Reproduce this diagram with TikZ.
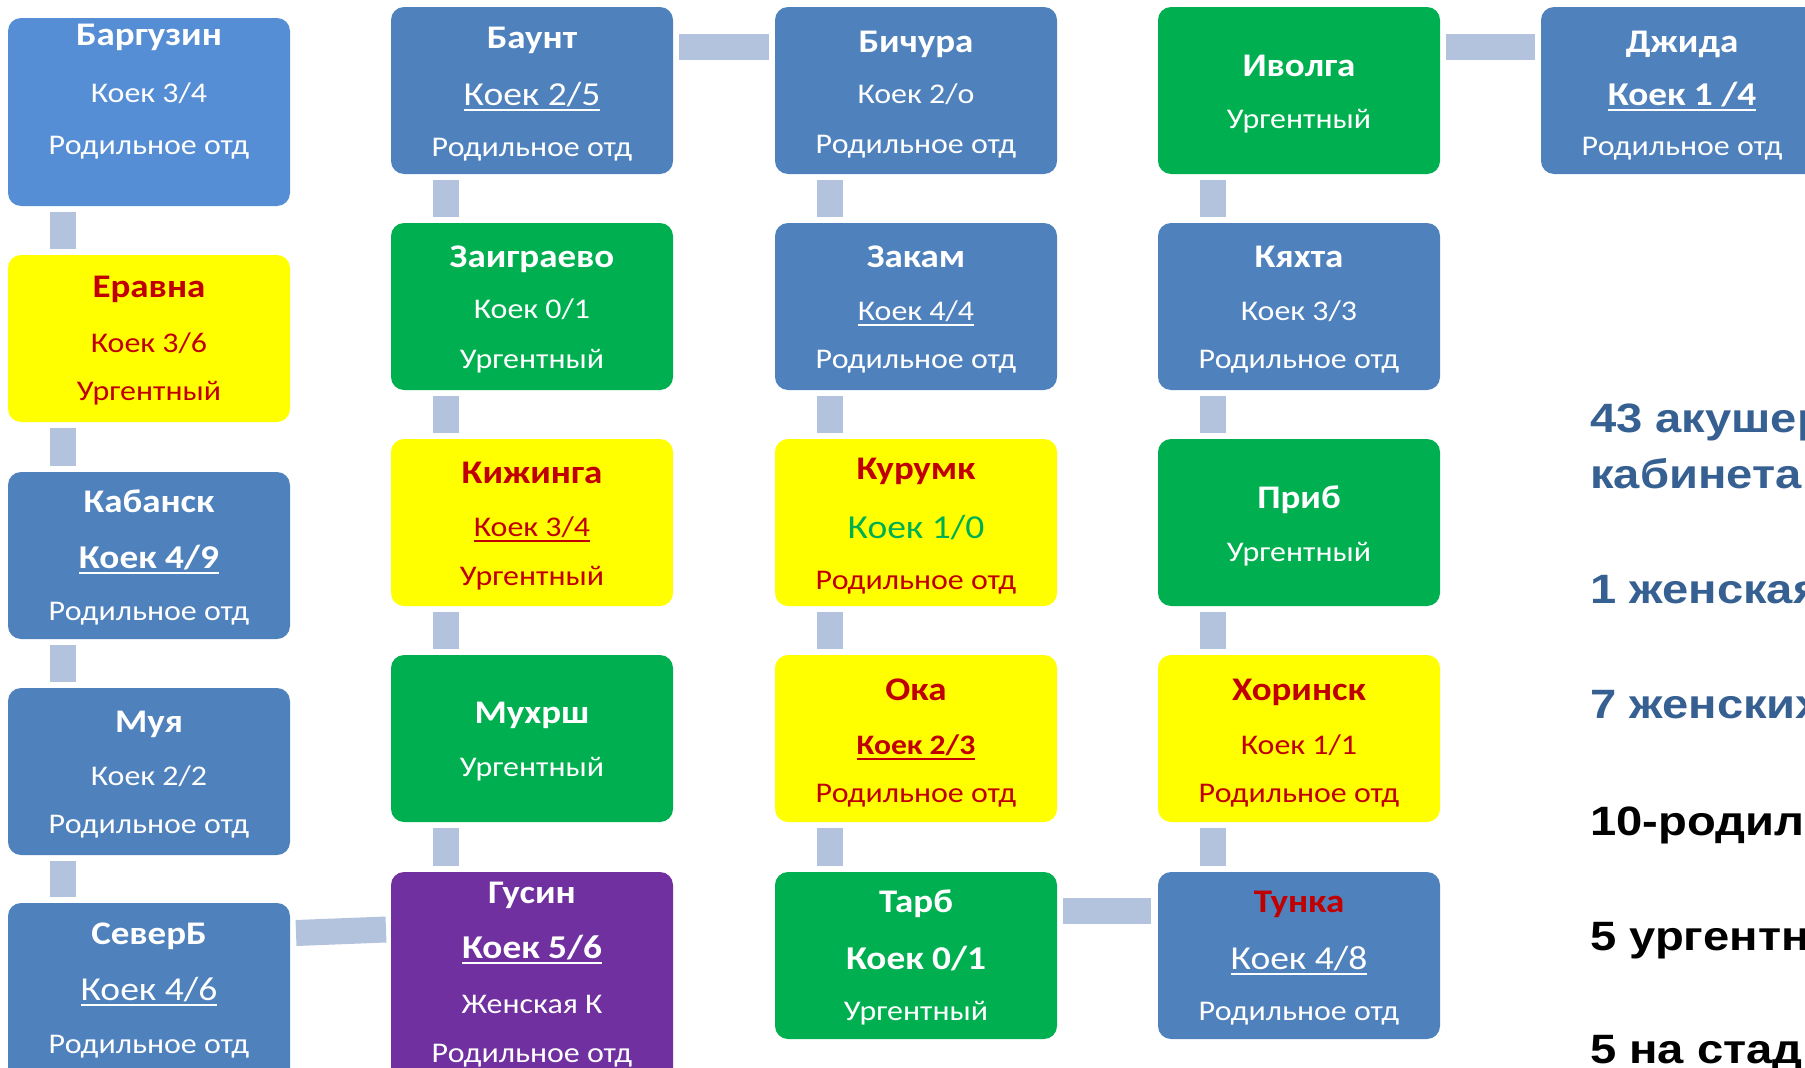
\documentclass[tikz,border=0pt]{standalone}
\usepackage{fontspec}
\setmainfont{Carlito}[FakeStretch=1.12]
\newfontfamily\arialf{Liberation Sans}[FakeStretch=1.15]
\definecolor{boxblue}{RGB}{79,129,189}
\definecolor{lightbl}{RGB}{85,142,213}
\definecolor{grn}{RGB}{0,176,80}
\definecolor{yel}{RGB}{255,255,0}
\definecolor{purp}{RGB}{112,48,160}
\definecolor{redt}{RGB}{192,0,0}
\definecolor{connc}{RGB}{179,195,221}
\definecolor{txtblue}{RGB}{54,96,146}
\newcommand\fT{\fontsize{33}{33}\selectfont\bfseries}
\newcommand\fR{\fontsize{28.5}{28.5}\selectfont}
\newcommand\fL{\fontsize{33.5}{33.5}\selectfont}
\newcommand\fB{\fontsize{33.3}{33.3}\selectfont\bfseries}
\newcommand\fBs{\fontsize{28.2}{28.2}\selectfont\bfseries}
\newcommand\ulx[1]{\setbox0\hbox{#1}\rlap{\rule[-6pt]{\wd0}{2pt}}\box0}
\newcommand\bl[4]{\node[anchor=base,inner sep=0,text=white,#3] (#1l#2) at ([shift={(0,#2)}]#1.north) {#4};}
\tikzset{
  box/.style={rounded corners=13pt, minimum width=282pt, minimum height=167pt, anchor=north west, inner sep=0, outer sep=0},
  bluebox/.style={box, fill=boxblue},
  grnbox/.style={box, fill=grn},
  yelbox/.style={box, fill=yel},
  purbox/.style={box, fill=purp},
  conn/.style={line width=26pt, draw=connc},
  side/.style={anchor=base west, inner sep=0, font=\arialf\bfseries\fontsize{41}{41}\selectfont}
}
\begin{document}
\begin{tikzpicture}[x=1pt,y=-1pt]
\useasboundingbox (0,0) rectangle (1805,1068);
\clip (0,0) rectangle (1805,1068);
% column 1
\node[box, fill=lightbl, minimum height=188pt] (b1) at (8,18) {};
\node[yelbox] (b2) at (8,255) {};
\node[bluebox] (b3) at (8,472) {};
\node[bluebox] (b4) at (8,688) {};
\node[bluebox, minimum height=200pt] (b5) at (8,903) {};
% column 2
\node[bluebox] (c1) at (391,7) {};
\node[grnbox] (c2) at (391,223) {};
\node[yelbox] (c3) at (391,439) {};
\node[grnbox] (c4) at (391,655) {};
\node[purbox, minimum height=220pt] (c5) at (391,872) {};
% column 3
\node[bluebox] (d1) at (775,7) {};
\node[bluebox] (d2) at (775,223) {};
\node[yelbox] (d3) at (775,439) {};
\node[yelbox] (d4) at (775,655) {};
\node[grnbox] (d5) at (775,872) {};
% column 4
\node[grnbox] (e1) at (1158,7) {};
\node[bluebox] (e2) at (1158,223) {};
\node[grnbox] (e3) at (1158,439) {};
\node[yelbox] (e4) at (1158,655) {};
\node[bluebox] (e5) at (1158,872) {};
% column 5
\node[bluebox] (f1) at (1541,7) {};

% connectors
\foreach \a/\b in {b1/b2,b2/b3,b3/b4,b4/b5,c1/c2,c2/c3,c3/c4,c4/c5,d1/d2,d2/d3,d3/d4,d4/d5,e1/e2,e2/e3,e3/e4,e4/e5}
  \draw[conn] ([shift={(55,6)}]\a.south west) -- ([shift={(55,-6)}]\b.north west);
\draw[conn] ([shift={(6,40)}]c1.north east) -- ([shift={(-6,40)}]d1.north west);
\draw[conn] ([shift={(6,40)}]e1.north east) -- ([shift={(-6,40)}]f1.north west);
\draw[conn] ([shift={(6,38.5)}]d5.north east) -- ([shift={(-7,38.5)}]e5.north west);
\draw[conn] ([shift={(6,30)}]b5.north east) -- ([shift={(-5,57.5)}]c5.north west);

% texts column 1
\bl{b1}{27}{font=\fT}{Баргузин}
\bl{b1}{84}{font=\fR}{Коек 3/4}
\bl{b1}{136}{font=\fR}{Родильное отд}
\bl{b2}{42}{font=\fT,text=redt}{Еравна}
\bl{b2}{97}{font=\fR,text=redt}{Коек 3/6}
\bl{b2}{145}{font=\fR,text=redt}{Ургентный}
\bl{b3}{40}{font=\fT}{Кабанск}
\bl{b3}{96}{font=\fB}{\ulx{Коек 4/9}}
\bl{b3}{148}{font=\fR}{Родильное отд}
\bl{b4}{44}{font=\fT}{Муя}
\bl{b4}{97}{font=\fR}{Коек 2/2}
\bl{b4}{145}{font=\fR}{Родильное отд}
\bl{b5}{41}{font=\fT}{СеверБ}
\bl{b5}{97}{font=\fL}{\ulx{Коек 4/6}}
\bl{b5}{150}{font=\fR}{Родильное отд}
% column 2
\bl{c1}{41}{font=\fT}{Баунт}
\bl{c1}{98}{font=\fL}{\ulx{Коек 2/5}}
\bl{c1}{149}{font=\fR}{Родильное отд}
\bl{c2}{44}{font=\fT}{Заиграево}
\bl{c2}{95}{font=\fR}{Коек 0/1}
\bl{c2}{145}{font=\fR}{Ургентный}
\bl{c3}{44}{font=\fT,text=redt}{Кижинга}
\bl{c3}{97}{font=\fR,text=redt}{\ulx{Коек 3/4}}
\bl{c3}{146}{font=\fR,text=redt}{Ургентный}
\bl{c4}{68}{font=\fT}{Мухрш}
\bl{c4}{121}{font=\fR}{Ургентный}
\bl{c5}{31}{font=\fT}{Гусин}
\bl{c5}{86}{font=\fB}{\ulx{Коек 5/6}}
\bl{c5}{141}{font=\fR}{Женская К}
\bl{c5}{190}{font=\fR}{Родильное отд}
% column 3
\bl{d1}{45}{font=\fT}{Бичура}
\bl{d1}{96}{font=\fR}{Коек 2/о}
\bl{d1}{146}{font=\fR}{Родильное отд}
\bl{d2}{44}{font=\fT}{Закам}
\bl{d2}{97}{font=\fR}{\ulx{Коек 4/4}}
\bl{d2}{145}{font=\fR}{Родильное отд}
\bl{d3}{40}{font=\fT,text=redt}{Курумк}
\bl{d3}{99}{font=\fL,text=grn}{Коек 1/0}
\bl{d3}{150}{font=\fR,text=redt}{Родильное отд}
\bl{d4}{45}{font=\fT,text=redt}{Ока}
\bl{d4}{99}{font=\fBs,text=redt}{\ulx{Коек 2/3}}
\bl{d4}{147}{font=\fR,text=redt}{Родильное отд}
\bl{d5}{40}{font=\fT}{Тарб}
\bl{d5}{97}{font=\fB}{Коек 0/1}
\bl{d5}{148}{font=\fR}{Ургентный}
% column 4
\bl{e1}{69}{font=\fT}{Иволга}
\bl{e1}{121}{font=\fR}{Ургентный}
\bl{e2}{44}{font=\fT}{Кяхта}
\bl{e2}{97}{font=\fR}{Коек 3/3}
\bl{e2}{145}{font=\fR}{Родильное отд}
\bl{e3}{69}{font=\fT}{Приб}
\bl{e3}{122}{font=\fR}{Ургентный}
\bl{e4}{45}{font=\fT,text=redt}{Хоринск}
\bl{e4}{99}{font=\fR,text=redt}{Коек 1/1}
\bl{e4}{147}{font=\fR,text=redt}{Родильное отд}
\bl{e5}{40}{font=\fT,text=redt}{Тунка}
\bl{e5}{97}{font=\fL}{\ulx{Коек 4/8}}
\bl{e5}{148}{font=\fR}{Родильное отд}
% column 5
\bl{f1}{45}{font=\fT}{Джида}
\bl{f1}{98}{font=\fB}{\ulx{Коек 1 /4}}
\bl{f1}{148}{font=\fR}{Родильное отд}

% side text
\node[side, text=txtblue] (s1) at (1590,432) {43 акушер};
\node[side, text=txtblue] (s2) at (1590,488) {кабинета};
\node[side, text=txtblue] (s3) at (1590,603) {1 женская};
\node[side, text=txtblue] (s4) at (1590,718) {7 женских};
\node[side, text=black] (s5) at (1590,835) {10-родил};
\node[side, text=black] (s6) at (1590,950) {5 ургентн};
\node[side, text=black] (s7) at (1590,1063) {5 на стад};
\end{tikzpicture}
\end{document}
